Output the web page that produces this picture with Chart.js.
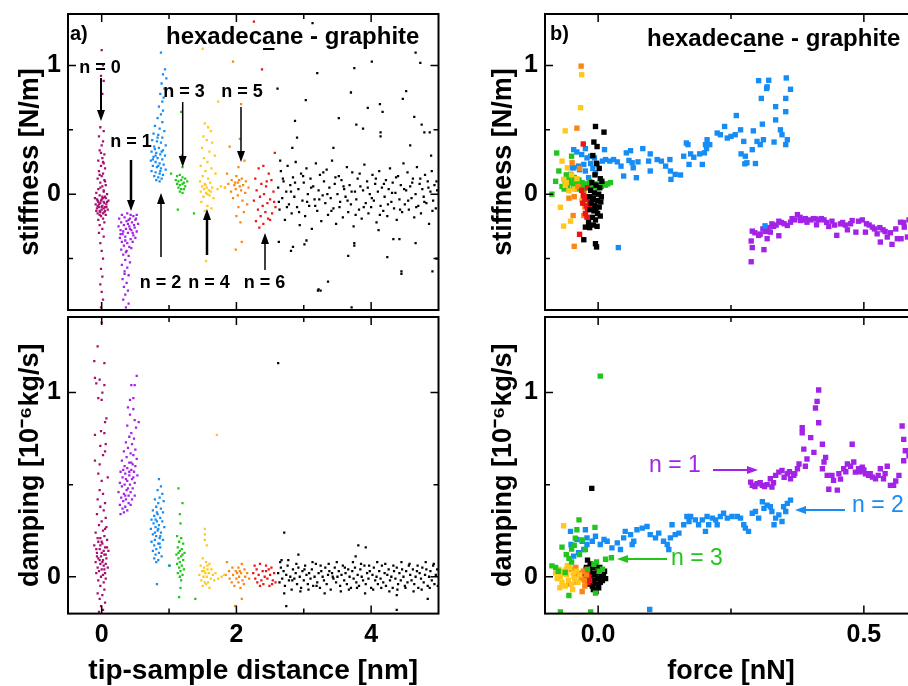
<!DOCTYPE html>
<html>
<head>
<meta charset="utf-8">
<script src="https://cdn.jsdelivr.net/npm/chart.js@4.4.1/dist/chart.umd.min.js"></script>
<style>
  body { margin: 0; width: 908px; height: 686px; overflow: hidden; background: #fff; position: relative; }
  canvas { position: absolute; }
</style>
</head>
<body>
<canvas id="stiffDist" width="450" height="314" style="left:0;top:0"></canvas>
<canvas id="dampDist" width="450" height="373" style="left:0;top:313px"></canvas>
<canvas id="stiffForce" width="480" height="314" style="left:450px;top:0"></canvas>
<canvas id="dampForce" width="480" height="373" style="left:450px;top:313px"></canvas>
<script>
// tick values (major ones get a label)
const distTicks = [0, 1, 2, 3, 4];
const distMajor = [0, 2, 4];
const forceTicks = [0, 0.25, 0.5];
const forceMajor = [0, 0.5];
const stiffTicks = [-0.5, 0, 0.5, 1];
const dampTicks = [0, 0.5, 1];
const yMajor = [0, 1];

// colours for layer n = 0 ... 6 and the bulk liquid
const colN0 = "#a5106f";
const colN1 = "#a322e8";
const colN2 = "#168cf5";
const colN3 = "#22c51c";
const colN4 = "#ffc81a";
const colN5 = "#fa8714";
const colN6 = "#ec1414";
const colBulk = "#000000";

// ---- a) stiffness vs tip-sample distance [nm, N/m]
const stiffDistN0 = [[0.0,1.12],[0.02,1.0],[-0.01,0.92],[0.03,0.88],[0.01,0.78],[-0.02,0.52],[0.03,0.49],[-0.04,0.45],[0.02,0.41],[0.0,0.38],[-0.03,0.34],[0.04,0.31],[0.01,0.28],[-0.05,0.26],[0.03,0.24],[-0.01,0.22],[0.05,0.2],[-0.04,0.18],[0.02,0.16],[0.0,0.14],[-0.06,0.12],[0.04,0.11],[-0.02,0.09],[0.06,0.07],[0.01,0.06],[-0.05,0.04],[0.03,0.03],[-0.08,0.01],[0.08,0.0],[-0.03,-0.01],[0.05,-0.02],[-0.1,-0.03],[0.0,-0.04],[0.1,-0.05],[-0.06,-0.05],[0.03,-0.06],[-0.02,-0.07],[0.07,-0.08],[-0.09,-0.08],[0.01,-0.09],[-0.04,-0.1],[0.05,-0.1],[-0.07,-0.11],[0.09,-0.12],[0.0,-0.12],[-0.03,-0.13],[0.04,-0.14],[-0.06,-0.15],[0.06,-0.16],[-0.01,-0.17],[0.02,-0.19],[-0.05,-0.2],[0.04,-0.22],[-0.03,-0.24],[0.01,-0.27],[-0.04,-0.3],[0.03,-0.33],[-0.02,-0.38],[0.0,-0.44],[0.02,-0.5],[-0.01,-0.58],[0.01,-0.64],[-0.02,-0.7],[0.0,-0.76],[0.02,-0.82],[-0.01,-0.88],[-0.05,-0.06],[0.02,-0.03],[0.07,-0.1],[-0.08,-0.13],[0.03,-0.11],[-0.01,-0.05],[0.05,-0.13],[-0.04,-0.08],[0.08,-0.06],[-0.02,-0.14],[0.0,-0.1],[0.04,-0.07],[-0.07,-0.04],[0.06,-0.03],[-0.03,-0.16],[0.02,-0.15],[-0.06,-0.09],[0.01,-0.02],[0.03,0.02],[-0.02,0.05],[0.05,0.1],[-0.03,0.15],[0.02,0.25],[-0.01,0.32]];
const stiffDistN1 = [[0.3,-0.16],[0.38,-0.15],[0.47,-0.17],[0.52,-0.16],[0.26,-0.19],[0.34,-0.18],[0.42,-0.19],[0.5,-0.2],[0.29,-0.22],[0.37,-0.21],[0.45,-0.22],[0.54,-0.23],[0.25,-0.25],[0.33,-0.24],[0.41,-0.25],[0.49,-0.26],[0.28,-0.28],[0.36,-0.27],[0.44,-0.28],[0.52,-0.29],[0.31,-0.31],[0.39,-0.3],[0.47,-0.32],[0.27,-0.34],[0.35,-0.33],[0.43,-0.35],[0.5,-0.34],[0.3,-0.37],[0.38,-0.38],[0.46,-0.37],[0.33,-0.4],[0.41,-0.41],[0.29,-0.43],[0.37,-0.44],[0.44,-0.42],[0.32,-0.47],[0.4,-0.48],[0.35,-0.51],[0.42,-0.53],[0.3,-0.55],[0.38,-0.57],[0.34,-0.6],[0.4,-0.63],[0.31,-0.66],[0.37,-0.69],[0.33,-0.72],[0.39,-0.75],[0.35,-0.78],[0.32,-0.82],[0.4,-0.85],[0.36,-0.88],[0.34,-0.62],[0.36,-0.45],[0.48,-0.24],[0.4,-0.2],[0.32,-0.29],[0.46,-0.3],[0.35,-0.36],[0.42,-0.27],[0.28,-0.31],[0.51,-0.19],[0.39,-0.23],[0.43,-0.16]];
const stiffDistN2 = [[0.88,1.1],[0.94,0.97],[0.91,0.93],[0.96,0.9],[0.89,0.86],[0.93,0.82],[0.87,0.78],[0.92,0.75],[0.9,0.72],[0.85,0.68],[0.91,0.65],[0.88,0.62],[0.83,0.59],[0.9,0.56],[0.79,0.53],[0.86,0.51],[0.93,0.49],[0.77,0.47],[0.84,0.46],[0.9,0.44],[0.75,0.42],[0.82,0.41],[0.88,0.4],[0.95,0.38],[0.78,0.37],[0.85,0.36],[0.91,0.34],[0.74,0.33],[0.81,0.32],[0.87,0.31],[0.94,0.3],[0.77,0.29],[0.83,0.28],[0.9,0.27],[0.73,0.26],[0.8,0.25],[0.86,0.24],[0.92,0.23],[0.76,0.22],[0.82,0.21],[0.88,0.2],[0.95,0.19],[0.74,0.18],[0.8,0.17],[0.86,0.16],[0.91,0.15],[0.78,0.14],[0.84,0.13],[0.89,0.12],[0.81,0.11],[0.86,0.1],[0.79,0.35],[0.84,0.22],[0.76,0.27],[0.89,0.33],[0.83,0.44],[0.8,0.3],[0.87,0.18]];
const stiffDistN3 = [[1.18,0.64],[1.19,0.3],[1.2,0.21],[1.03,0.16],[1.12,0.14],[1.16,0.15],[1.2,0.13],[1.24,0.12],[1.1,0.11],[1.14,0.1],[1.18,0.11],[1.22,0.09],[1.27,0.1],[1.12,0.08],[1.16,0.07],[1.2,0.08],[1.24,0.06],[1.14,0.05],[1.18,0.04],[1.22,0.04],[1.16,0.02],[1.2,0.01],[1.13,-0.12],[1.37,-0.15]];
const stiffDistN4 = [[1.5,1.13],[1.73,0.72],[1.53,0.55],[1.58,0.52],[1.62,0.49],[1.51,0.45],[1.56,0.42],[1.64,0.4],[1.49,0.36],[1.6,0.33],[1.68,0.3],[1.52,0.28],[1.57,0.25],[1.47,0.22],[1.63,0.2],[1.54,0.18],[1.69,0.16],[1.5,0.14],[1.58,0.12],[1.46,0.1],[1.53,0.08],[1.61,0.09],[1.49,0.06],[1.56,0.05],[1.52,0.04],[1.59,0.03],[1.64,0.05],[1.47,0.02],[1.55,0.01],[1.6,-0.01],[1.51,-0.02],[1.66,-0.03],[1.72,0.04],[1.77,0.06],[1.83,0.05],[1.48,-0.06],[1.57,-0.09],[1.53,-0.13],[1.63,-0.11],[1.55,-0.52],[1.54,0.07],[1.57,0.0],[1.62,0.02]];
const stiffDistN5 = [[1.95,1.03],[2.07,0.7],[2.05,0.43],[1.9,0.37],[2.12,0.26],[2.03,0.21],[1.86,0.16],[2.0,0.14],[2.08,0.12],[1.93,0.11],[2.14,0.1],[2.02,0.09],[1.88,0.08],[2.1,0.07],[1.97,0.07],[2.05,0.06],[1.83,0.05],[2.18,0.05],[1.99,0.04],[2.07,0.03],[1.92,0.02],[2.13,0.01],[2.02,-0.01],[1.95,-0.03],[2.09,-0.05],[2.16,-0.08],[2.03,-0.1],[2.0,-0.17],[2.06,-0.22],[2.08,-0.37],[1.99,-0.43],[2.11,-0.14],[2.04,0.11],[1.98,0.09]];
const stiffDistN6 = [[2.26,1.34],[2.38,0.97],[2.57,0.32],[2.4,0.22],[2.33,0.2],[2.48,0.16],[2.28,0.12],[2.52,0.11],[2.37,0.08],[2.44,0.06],[2.3,0.03],[2.55,0.02],[2.41,0.0],[2.35,-0.02],[2.5,-0.04],[2.26,-0.05],[2.46,-0.07],[2.39,-0.09],[2.58,-0.1],[2.32,-0.12],[2.43,-0.14],[2.53,-0.15],[2.36,-0.17],[2.47,-0.19],[2.29,-0.21],[2.4,-0.23],[2.34,-0.26],[2.5,-0.2],[2.56,-0.06],[2.45,0.1]];
const stiffDistBulk = [[2.62,0.05],[2.64,-0.12],[2.66,0.18],[2.68,-0.03],[2.7,0.1],[2.72,-0.2],[2.74,0.02],[2.76,0.22],[2.78,-0.08],[2.8,0.07],[2.82,-0.15],[2.84,0.13],[2.86,-0.02],[2.88,0.25],[2.9,-0.1],[2.92,0.04],[2.94,-0.24],[2.96,0.16],[2.98,-0.05],[3.0,0.09],[3.02,-0.17],[3.04,0.2],[3.06,0.0],[3.08,-0.09],[3.1,0.12],[3.12,-0.27],[3.14,0.06],[3.16,-0.04],[3.18,0.24],[3.2,-0.13],[3.22,0.03],[3.24,0.15],[3.26,-0.21],[3.28,-0.01],[3.3,0.1],[3.32,-0.07],[3.34,0.19],[3.36,-0.16],[3.38,0.05],[3.4,-0.03],[3.42,0.26],[3.44,-0.11],[3.46,0.08],[3.48,-0.23],[3.5,0.0],[3.52,0.14],[3.54,-0.06],[3.56,0.11],[3.58,-0.18],[3.6,0.04],[3.62,-0.02],[3.64,0.21],[3.66,-0.14],[3.68,0.07],[3.7,-0.08],[3.72,0.17],[3.74,-0.25],[3.76,0.02],[3.78,-0.04],[3.8,0.12],[3.82,-0.12],[3.84,0.06],[3.86,-0.19],[3.88,0.03],[3.9,0.23],[3.92,-0.07],[3.94,0.1],[3.96,-0.15],[3.98,0.0],[4.0,-0.1],[4.02,0.15],[4.04,-0.05],[4.06,0.08],[4.08,-0.22],[4.1,0.02],[4.12,0.18],[4.14,-0.09],[4.16,0.05],[4.18,-0.13],[4.2,-0.02],[4.22,0.11],[4.24,-0.17],[4.26,0.04],[4.28,0.2],[4.3,-0.06],[4.32,0.09],[4.34,-0.11],[4.36,0.01],[4.38,-0.2],[4.4,0.14],[4.42,-0.04],[4.44,0.07],[4.46,-0.14],[4.48,0.24],[4.5,-0.08],[4.52,0.03],[4.54,0.17],[4.56,-0.12],[4.58,0.06],[4.6,-0.03],[4.62,0.12],[4.64,-0.18],[4.66,0.0],[4.68,0.21],[4.7,-0.09],[4.72,0.08],[4.74,-0.15],[4.76,0.04],[4.78,-0.02],[4.8,0.15],[4.82,-0.07],[4.84,0.1],[4.86,-0.23],[4.88,0.02],[4.9,0.18],[4.92,-0.05],[4.94,0.07],[4.96,-0.11],[4.98,0.03],[2.63,-0.06],[2.69,0.12],[2.75,-0.1],[2.81,0.02],[2.87,0.09],[2.93,-0.14],[2.99,0.14],[3.05,-0.06],[3.11,0.05],[3.17,-0.09],[3.23,-0.04],[3.29,0.17],[3.35,0.0],[3.41,-0.13],[3.47,0.13],[3.53,-0.1],[3.59,0.06],[3.65,-0.05],[3.71,0.02],[3.77,-0.16],[3.83,0.16],[3.89,-0.1],[3.95,0.05],[4.01,-0.03],[4.07,0.12],[4.13,-0.16],[4.19,0.08],[4.25,-0.08],[4.31,0.01],[4.37,0.13],[4.43,-0.12],[4.49,0.04],[4.55,-0.05],[4.61,0.09],[4.67,-0.1],[4.73,0.12],[4.79,-0.06],[4.85,0.05],[4.91,-0.13],[4.97,0.1],[3.13,1.33],[4.01,1.03],[4.66,1.1],[4.73,1.02],[3.75,0.98],[3.2,0.94],[2.61,0.82],[3.7,0.79],[3.03,0.73],[4.52,0.8],[4.47,0.74],[4.13,0.7],[3.95,0.67],[4.17,0.64],[3.52,0.59],[2.87,0.57],[3.78,0.54],[3.88,0.51],[4.64,0.6],[4.75,0.54],[4.79,0.48],[4.87,0.48],[4.14,0.48],[4.14,0.45],[2.9,0.44],[4.58,0.38],[3.44,0.36],[2.83,0.36],[4.89,0.3],[2.65,0.26],[2.63,-0.37],[3.04,-0.36],[3.01,-0.39],[3.75,-0.38],[3.75,-0.4],[4.11,-0.28],[4.33,-0.35],[4.42,-0.35],[4.66,-0.38],[2.84,-0.41],[2.81,-0.44],[3.66,-0.48],[4.24,-0.49],[4.91,-0.6],[4.45,-0.6],[4.45,-0.62],[4.97,-0.5],[3.36,-0.68],[3.25,-0.75],[3.21,-0.75],[3.22,-0.74],[3.71,-0.88]];

// ---- a) damping vs tip-sample distance [nm, 1e-6 kg/s]
const dampDistN0 = [[0.0,1.38],[-0.06,1.25],[-0.11,1.17],[0.04,1.16],[-0.1,1.08],[-0.03,1.07],[-0.08,1.05],[0.04,1.04],[0.01,1.0],[-0.05,0.97],[0.0,0.96],[0.07,0.86],[0.05,0.84],[-0.01,0.79],[-0.1,0.77],[0.04,0.78],[-0.02,0.71],[0.06,0.72],[0.05,0.68],[0.02,0.66],[-0.1,0.63],[-0.03,0.61],[-0.05,0.56],[0.0,0.52],[0.09,0.54],[-0.03,0.47],[0.02,0.45],[-0.06,0.42],[0.05,0.4],[-0.02,0.38],[0.03,0.36],[-0.07,0.34],[0.06,0.32],[0.0,0.3],[-0.04,0.28],[0.07,0.27],[0.02,0.25],[-0.09,0.24],[0.04,0.22],[-0.02,0.21],[0.08,0.2],[-0.05,0.19],[0.01,0.18],[-0.11,0.17],[0.05,0.16],[-0.03,0.15],[0.1,0.14],[0.0,0.13],[-0.07,0.13],[0.04,0.12],[-0.01,0.11],[0.07,0.1],[-0.05,0.1],[0.02,0.09],[-0.09,0.08],[0.06,0.07],[-0.02,0.07],[0.03,0.06],[-0.06,0.05],[0.09,0.05],[0.0,0.04],[-0.04,0.03],[0.05,0.02],[-0.08,0.02],[0.02,0.01],[-0.01,0.0],[0.06,-0.01],[-0.05,-0.02],[0.03,-0.03],[-0.02,-0.05],[0.04,-0.07],[-0.06,-0.09],[0.01,-0.1],[-0.03,-0.12],[0.05,-0.14],[-0.01,-0.16],[0.02,-0.18],[-0.04,-0.19],[0.08,0.16],[-0.07,0.11],[0.03,0.14],[-0.03,0.09],[0.06,0.12],[-0.08,0.15],[0.01,0.08],[-0.02,0.17],[0.04,0.04],[-0.06,0.21],[0.0,0.19],[0.05,0.26]];
const dampDistN1 = [[0.52,1.09],[0.44,1.04],[0.49,1.04],[0.47,0.97],[0.42,0.96],[0.39,0.92],[0.47,0.91],[0.42,0.88],[0.49,0.85],[0.55,0.84],[0.38,0.82],[0.51,0.81],[0.44,0.78],[0.41,0.76],[0.48,0.75],[0.36,0.73],[0.45,0.72],[0.39,0.7],[0.5,0.69],[0.33,0.68],[0.43,0.67],[0.47,0.66],[0.37,0.65],[0.52,0.64],[0.3,0.63],[0.41,0.62],[0.46,0.61],[0.34,0.6],[0.5,0.6],[0.38,0.59],[0.44,0.58],[0.28,0.57],[0.48,0.57],[0.35,0.56],[0.41,0.55],[0.53,0.55],[0.31,0.54],[0.45,0.53],[0.38,0.52],[0.27,0.51],[0.49,0.51],[0.34,0.5],[0.42,0.5],[0.3,0.49],[0.46,0.48],[0.37,0.47],[0.25,0.46],[0.43,0.46],[0.33,0.45],[0.4,0.44],[0.49,0.44],[0.29,0.43],[0.36,0.42],[0.45,0.42],[0.32,0.41],[0.4,0.4],[0.27,0.39],[0.35,0.38],[0.43,0.39],[0.31,0.37],[0.38,0.36],[0.33,0.35],[0.28,0.34],[0.36,0.53],[0.41,0.57],[0.39,0.48],[0.44,0.62],[0.32,0.58],[0.47,0.54],[0.35,0.44]];
const dampDistN2 = [[0.85,0.53],[0.88,0.49],[0.83,0.47],[0.9,0.45],[0.86,0.43],[0.79,0.42],[0.92,0.41],[0.84,0.4],[0.81,0.38],[0.88,0.37],[0.76,0.36],[0.91,0.35],[0.83,0.34],[0.78,0.33],[0.87,0.32],[0.74,0.31],[0.82,0.3],[0.9,0.3],[0.77,0.29],[0.85,0.28],[0.8,0.27],[0.93,0.27],[0.73,0.26],[0.83,0.25],[0.88,0.24],[0.76,0.23],[0.81,0.22],[0.86,0.21],[0.79,0.2],[0.91,0.2],[0.74,0.19],[0.84,0.18],[0.78,0.17],[0.87,0.16],[0.81,0.15],[0.76,0.14],[0.85,0.13],[0.8,0.12],[0.89,0.11],[0.78,0.1],[0.84,0.09],[0.81,0.08],[0.82,-0.04],[1.01,0.06],[0.84,0.26],[0.8,0.31],[0.87,0.22],[0.82,0.35],[0.79,0.24],[0.86,0.18]];
const dampDistN3 = [[1.14,0.48],[1.2,0.4],[1.16,0.34],[1.17,0.29],[1.12,0.22],[1.18,0.21],[1.15,0.19],[1.21,0.18],[1.13,0.16],[1.19,0.15],[1.16,0.14],[1.23,0.13],[1.11,0.12],[1.18,0.11],[1.14,0.1],[1.21,0.09],[1.16,0.08],[1.12,0.07],[1.19,0.06],[1.15,0.05],[1.22,0.04],[1.17,0.03],[1.13,0.02],[1.2,0.01],[1.16,0.0],[1.18,-0.02],[1.17,-0.06],[1.15,-0.11],[1.39,-0.12],[1.0,0.06],[1.2,0.12],[1.14,0.13]];
const dampDistN4 = [[1.71,0.77],[1.53,0.26],[1.53,0.23],[1.53,0.2],[1.56,0.17],[1.5,0.1],[1.55,0.08],[1.6,0.07],[1.47,0.06],[1.52,0.05],[1.57,0.04],[1.63,0.04],[1.49,0.03],[1.54,0.02],[1.59,0.02],[1.45,0.01],[1.51,0.0],[1.56,0.0],[1.62,-0.01],[1.48,-0.02],[1.53,-0.03],[1.58,-0.03],[1.65,0.01],[1.69,0.02],[1.73,-0.01],[1.78,0.0],[1.82,0.01],[1.5,-0.05],[1.6,-0.06],[1.55,-0.04],[1.67,-0.02],[1.57,0.06],[1.52,0.03]];
const dampDistN5 = [[1.86,0.08],[2.08,0.07],[1.94,0.05],[2.03,0.05],[2.12,0.04],[1.89,0.03],[1.99,0.03],[2.07,0.02],[2.16,0.02],[1.84,0.01],[1.95,0.01],[2.04,0.0],[2.13,0.0],[1.9,-0.01],[2.0,-0.01],[2.09,-0.02],[2.19,-0.01],[1.93,-0.03],[2.03,-0.03],[2.11,-0.04],[1.97,-0.05],[2.06,-0.06],[2.08,-0.12],[1.98,-0.16],[2.01,0.02],[2.05,0.03]];
const dampDistN6 = [[2.27,0.06],[2.35,0.07],[2.44,0.06],[2.52,0.05],[2.3,0.04],[2.39,0.03],[2.48,0.04],[2.56,0.02],[2.25,0.02],[2.33,0.01],[2.42,0.0],[2.5,0.01],[2.28,-0.01],[2.37,-0.02],[2.46,-0.01],[2.54,-0.02],[2.31,-0.03],[2.4,-0.04],[2.49,-0.05],[2.58,-0.03],[2.35,-0.05],[2.44,0.03],[2.53,-0.04]];
const dampDistBulk = [[2.62,0.02],[2.64,-0.03],[2.66,0.05],[2.68,-0.01],[2.7,0.03],[2.72,-0.05],[2.74,0.01],[2.76,0.06],[2.78,-0.02],[2.8,0.0],[2.82,-0.07],[2.84,0.04],[2.86,-0.01],[2.88,0.02],[2.9,-0.04],[2.92,0.05],[2.94,0.0],[2.96,-0.06],[2.98,0.03],[3.0,-0.02],[3.02,0.06],[3.04,0.01],[3.06,-0.04],[3.08,0.02],[3.1,-0.01],[3.12,0.04],[3.14,-0.05],[3.16,0.0],[3.18,0.07],[3.2,-0.03],[3.22,0.02],[3.24,-0.06],[3.26,0.03],[3.28,0.0],[3.3,-0.02],[3.32,0.05],[3.34,-0.04],[3.36,0.01],[3.38,0.03],[3.4,-0.07],[3.42,0.02],[3.44,-0.01],[3.46,0.05],[3.48,-0.03],[3.5,0.0],[3.52,0.03],[3.54,-0.05],[3.56,0.01],[3.58,0.06],[3.6,-0.02],[3.62,0.02],[3.64,-0.04],[3.66,0.04],[3.68,0.0],[3.7,-0.06],[3.72,0.03],[3.74,-0.01],[3.76,0.05],[3.78,-0.03],[3.8,0.01],[3.82,-0.05],[3.84,0.04],[3.86,0.0],[3.88,-0.02],[3.9,0.06],[3.92,-0.04],[3.94,0.02],[3.96,-0.01],[3.98,0.03],[4.0,-0.06],[4.02,0.01],[4.04,0.05],[4.06,-0.02],[4.08,0.0],[4.1,-0.04],[4.12,0.03],[4.14,-0.01],[4.16,0.06],[4.18,-0.03],[4.2,0.02],[4.22,-0.05],[4.24,0.01],[4.26,0.04],[4.28,-0.02],[4.3,0.0],[4.32,-0.06],[4.34,0.03],[4.36,-0.01],[4.38,0.05],[4.4,-0.04],[4.42,0.02],[4.44,-0.02],[4.46,0.04],[4.48,0.0],[4.5,-0.05],[4.52,0.03],[4.54,-0.03],[4.56,0.06],[4.58,0.01],[4.6,-0.02],[4.62,0.04],[4.64,-0.04],[4.66,0.0],[4.68,0.03],[4.7,-0.06],[4.72,0.02],[4.74,-0.01],[4.76,0.05],[4.78,-0.03],[4.8,0.01],[4.82,0.04],[4.84,-0.05],[4.86,0.0],[4.88,0.03],[4.9,-0.02],[4.92,0.06],[4.94,-0.04],[4.96,0.01],[4.98,0.04],[2.65,0.08],[2.71,-0.09],[2.77,0.09],[2.83,-0.02],[2.89,0.07],[2.95,-0.08],[3.01,0.04],[3.07,-0.07],[3.13,0.08],[3.19,-0.05],[3.25,0.06],[3.31,-0.09],[3.37,0.07],[3.43,0.0],[3.49,0.08],[3.55,-0.08],[3.61,0.05],[3.67,-0.07],[3.73,0.08],[3.79,-0.06],[3.85,0.07],[3.91,-0.09],[3.97,0.06],[4.03,-0.07],[4.09,0.08],[4.15,-0.06],[4.21,0.07],[4.27,-0.08],[4.33,0.06],[4.39,-0.07],[4.45,0.08],[4.51,-0.06],[4.57,0.07],[4.63,-0.08],[4.69,0.06],[4.75,-0.07],[4.81,0.08],[4.87,-0.06],[4.93,0.07],[4.99,-0.05],[2.62,1.16],[2.71,0.24],[2.92,0.12],[2.67,0.09],[3.81,0.17],[3.92,0.16],[3.77,0.11],[2.74,-0.16],[4.38,-0.18],[4.84,-0.12],[4.38,-0.1]];

// ---- b) stiffness vs force [nN, N/m]
const stiffForceN1 = [[0.288,-0.525],[0.29,-0.415],[0.288,-0.364],[0.312,-0.431],[0.34,-0.323],[0.29,-0.287],[0.302,-0.32],[0.318,-0.346],[0.324,-0.295],[0.327,-0.231],[0.34,-0.21],[0.356,-0.243],[0.362,-0.218],[0.375,-0.159],[0.381,-0.205],[0.393,-0.218],[0.409,-0.192],[0.411,-0.238],[0.425,-0.2],[0.434,-0.251],[0.449,-0.32],[0.456,-0.231],[0.469,-0.277],[0.478,-0.205],[0.485,-0.295],[0.497,-0.2],[0.503,-0.295],[0.516,-0.256],[0.525,-0.308],[0.531,-0.372],[0.536,-0.277],[0.544,-0.333],[0.553,-0.39],[0.563,-0.346],[0.57,-0.346],[0.569,-0.218],[0.576,-0.256],[0.582,-0.333],[0.295,-0.3],[0.305,-0.31],[0.31,-0.27],[0.315,-0.29],[0.32,-0.26],[0.33,-0.25],[0.335,-0.24],[0.345,-0.22],[0.35,-0.23],[0.365,-0.19],[0.37,-0.2],[0.38,-0.18],[0.385,-0.2],[0.39,-0.19],[0.4,-0.2],[0.405,-0.19],[0.415,-0.2],[0.42,-0.19],[0.43,-0.22],[0.44,-0.21],[0.445,-0.24],[0.46,-0.22],[0.465,-0.24],[0.475,-0.23],[0.49,-0.21],[0.505,-0.23],[0.51,-0.24],[0.52,-0.27],[0.53,-0.26],[0.54,-0.29],[0.55,-0.3],[0.56,-0.27],[0.575,-0.22],[0.585,-0.2],[0.595,-0.24]];
const stiffForceN2 = [[-0.046,0.346],[-0.04,0.328],[-0.024,0.354],[-0.031,0.308],[-0.021,0.282],[-0.014,0.295],[-0.007,0.282],[-0.037,0.218],[-0.046,0.205],[-0.027,0.231],[-0.014,0.238],[-0.002,0.231],[0.008,0.257],[0.014,0.269],[0.012,0.346],[0.022,0.257],[0.029,0.269],[0.036,0.251],[0.048,0.141],[0.043,0.218],[0.053,0.321],[0.061,0.338],[0.058,0.262],[0.064,0.244],[0.066,0.205],[0.072,0.128],[0.075,0.251],[0.084,0.354],[0.095,0.257],[0.098,0.313],[0.098,0.18],[0.111,0.269],[0.119,0.257],[0.127,0.218],[0.135,0.269],[0.136,0.18],[0.137,0.115],[0.145,0.154],[0.155,0.149],[0.161,0.295],[0.166,0.398],[0.169,0.385],[0.171,0.231],[0.174,0.313],[0.18,0.287],[0.191,0.313],[0.196,0.231],[0.2,0.321],[0.202,0.385],[0.205,0.423],[0.21,0.385],[0.204,0.354],[0.224,0.475],[0.23,0.462],[0.238,0.526],[0.243,0.436],[0.25,0.449],[0.258,0.462],[0.26,0.611],[0.268,0.5],[0.274,0.41],[0.269,0.313],[0.277,0.295],[0.28,0.244],[0.292,0.492],[0.296,0.238],[0.29,0.346],[0.309,0.544],[0.299,0.41],[0.305,0.385],[0.302,0.882],[0.307,0.744],[0.317,0.821],[0.321,0.885],[0.318,0.834],[0.334,0.68],[0.331,0.405],[0.334,0.577],[0.343,0.5],[0.346,0.462],[0.353,0.641],[0.354,0.903],[0.353,0.385],[0.356,0.423],[0.353,0.744],[0.362,0.815],[0.311,0.423],[0.276,0.236],[-0.049,0.205],[-0.024,0.18],[-0.005,0.167],[-0.052,0.154],[-0.018,0.128],[-0.035,0.19],[-0.01,0.2],[0.038,-0.415],[0.314,-0.246]];
const stiffForceN3 = [[-0.087,0.0],[-0.08,0.1],[-0.074,0.18],[-0.078,0.32],[-0.05,0.295],[-0.068,0.06],[-0.062,0.08],[-0.058,0.05],[-0.052,0.09],[-0.047,0.06],[-0.042,0.1],[-0.038,0.07],[-0.034,0.05],[-0.03,0.09],[-0.026,0.06],[-0.022,0.08],[-0.018,0.05],[-0.014,0.07],[-0.01,0.06],[-0.006,0.08],[-0.002,0.05],[0.002,0.07],[0.006,0.06],[0.01,0.08],[0.014,0.07],[0.018,0.08],[0.023,0.09],[-0.064,0.04],[-0.055,0.12],[-0.045,0.13],[-0.036,0.11],[-0.027,0.03],[-0.016,0.1],[-0.06,0.15],[-0.04,0.04]];
const stiffForceN4 = [[-0.031,0.928],[-0.033,0.672],[-0.062,0.492],[-0.068,0.257],[-0.058,0.205],[-0.065,0.115],[-0.06,0.09],[-0.062,0.069],[-0.055,0.026],[-0.071,-0.102],[-0.052,-0.21],[-0.065,-0.248],[-0.031,-0.05],[-0.045,0.04],[-0.05,0.15],[-0.04,0.12]];
const stiffForceN5 = [[-0.032,0.995],[-0.04,0.513],[-0.049,0.244],[-0.055,-0.031],[-0.045,-0.02],[-0.027,0.0],[-0.027,-0.05],[-0.047,-0.166],[-0.027,-0.166],[-0.045,-0.405],[-0.025,-0.1],[-0.038,0.06],[-0.035,0.2]];
const stiffForceN6 = [[-0.028,0.39],[-0.031,0.03],[-0.028,-0.01],[-0.025,-0.04],[-0.029,-0.07],[-0.022,-0.09],[-0.02,-0.12],[-0.024,-0.15],[-0.021,-0.179],[-0.035,-0.312],[-0.018,-0.02],[-0.016,-0.06],[-0.02,0.05],[-0.015,-0.1]];
const stiffForceBulk = [[-0.005,0.526],[0.011,0.482],[-0.008,0.405],[-0.002,0.37],[-0.01,0.3],[-0.003,0.24],[0.002,0.2],[-0.006,0.15],[0.004,0.12],[-0.012,0.09],[-0.004,0.07],[0.003,0.05],[-0.014,0.03],[-0.007,0.01],[0.001,0.0],[-0.016,-0.02],[-0.009,-0.03],[-0.002,-0.05],[0.005,-0.06],[-0.013,-0.07],[-0.006,-0.09],[0.002,-0.1],[-0.015,-0.12],[-0.008,-0.13],[-0.001,-0.15],[0.004,-0.17],[-0.011,-0.18],[-0.005,-0.2],[-0.018,-0.22],[-0.009,-0.24],[-0.024,-0.256],[-0.016,-0.26],[-0.002,-0.25],[-0.027,-0.354],[-0.005,-0.385],[-0.003,-0.41],[0.006,-0.02],[0.007,0.1],[-0.01,-0.04],[-0.004,-0.11]];

// ---- b) damping vs force [nN, 1e-6 kg/s]
const dampForceN1 = [[0.287,0.514],[0.29,0.496],[0.299,0.505],[0.309,0.496],[0.318,0.5],[0.327,0.487],[0.324,0.532],[0.334,0.55],[0.34,0.568],[0.346,0.577],[0.356,0.559],[0.362,0.532],[0.368,0.55],[0.375,0.586],[0.378,0.612],[0.384,0.809],[0.384,0.782],[0.387,0.693],[0.393,0.639],[0.4,0.755],[0.406,0.675],[0.409,0.916],[0.412,0.952],[0.415,1.014],[0.415,0.836],[0.422,0.719],[0.425,0.623],[0.428,0.648],[0.422,0.586],[0.431,0.55],[0.434,0.475],[0.443,0.523],[0.45,0.47],[0.453,0.559],[0.462,0.586],[0.469,0.612],[0.478,0.719],[0.481,0.623],[0.484,0.568],[0.49,0.586],[0.497,0.595],[0.503,0.559],[0.509,0.55],[0.516,0.541],[0.522,0.532],[0.531,0.586],[0.537,0.532],[0.544,0.6],[0.55,0.496],[0.556,0.496],[0.566,0.55],[0.572,0.818],[0.575,0.746],[0.578,0.684],[0.575,0.63],[0.585,0.657],[0.59,0.6],[0.595,0.7],[0.6,0.55],[0.295,0.49],[0.305,0.51],[0.313,0.49],[0.33,0.51],[0.35,0.54],[0.36,0.57],[0.37,0.56],[0.39,0.6],[0.44,0.55],[0.456,0.53],[0.466,0.57],[0.475,0.6],[0.493,0.57],[0.5,0.58],[0.512,0.56],[0.527,0.55],[0.54,0.56],[0.56,0.52]];
const dampForceN2 = [[-0.052,0.246],[-0.04,0.202],[-0.03,0.193],[-0.024,0.255],[-0.021,0.211],[-0.011,0.193],[-0.005,0.22],[0.004,0.175],[0.011,0.202],[0.017,0.193],[0.026,0.157],[0.036,0.184],[0.042,0.148],[0.048,0.211],[0.051,0.246],[0.061,0.229],[0.064,0.175],[0.067,0.193],[0.073,0.255],[0.083,0.264],[0.092,0.273],[0.098,0.229],[0.108,0.211],[0.114,0.237],[0.123,0.193],[0.13,0.175],[0.133,0.148],[0.136,0.211],[0.139,0.282],[0.145,0.229],[0.152,0.237],[0.161,0.282],[0.167,0.327],[0.171,0.3],[0.174,0.327],[0.183,0.309],[0.189,0.282],[0.196,0.309],[0.202,0.246],[0.205,0.327],[0.208,0.282],[0.215,0.318],[0.221,0.309],[0.224,0.282],[0.23,0.327],[0.236,0.345],[0.243,0.318],[0.252,0.327],[0.262,0.327],[0.268,0.318],[0.274,0.282],[0.277,0.264],[0.283,0.246],[0.29,0.345],[0.296,0.354],[0.302,0.318],[0.309,0.407],[0.312,0.371],[0.318,0.389],[0.324,0.38],[0.327,0.354],[0.331,0.282],[0.334,0.318],[0.34,0.336],[0.346,0.3],[0.349,0.38],[0.356,0.398],[0.362,0.416],[0.353,0.354],[-0.051,0.175],[-0.037,0.13],[-0.046,0.112],[-0.027,0.148],[-0.021,0.175],[0.097,-0.178]];
const dampForceN3 = [[0.004,1.089],[-0.036,0.309],[-0.006,0.268],[-0.04,0.255],[-0.068,0.161],[-0.05,0.15],[-0.045,0.17],[-0.024,0.148],[-0.06,0.12],[-0.055,0.1],[-0.087,0.059],[-0.08,0.05],[-0.062,0.023],[-0.008,0.068],[-0.003,0.08],[0.014,0.095],[0.025,0.103],[0.008,0.041],[-0.055,-0.102],[-0.005,-0.089],[-0.071,-0.191],[-0.014,-0.191],[-0.03,0.2],[-0.043,0.21],[-0.02,0.04],[0.002,0.03],[-0.075,0.03],[-0.035,0.12],[-0.05,0.08]];
const dampForceN4 = [[-0.065,0.277],[-0.08,0.02],[-0.077,-0.01],[-0.074,0.04],[-0.071,0.0],[-0.068,-0.03],[-0.065,0.03],[-0.062,-0.05],[-0.059,0.01],[-0.056,-0.02],[-0.053,0.05],[-0.05,-0.04],[-0.047,0.02],[-0.044,-0.01],[-0.041,0.03],[-0.038,-0.03],[-0.035,0.01],[-0.072,-0.06],[-0.058,0.06],[-0.048,-0.07],[-0.06,0.04],[-0.07,0.015]];
const dampForceN5 = [[-0.05,0.04],[-0.045,0.0],[-0.04,-0.03],[-0.036,0.02],[-0.032,-0.01],[-0.028,0.03],[-0.025,-0.05],[-0.03,-0.08],[-0.055,-0.04],[-0.042,0.05],[-0.022,0.01],[-0.026,-0.02]];
const dampForceN6 = [[-0.025,0.01],[-0.022,-0.01],[-0.02,0.03],[-0.018,0.0],[-0.016,-0.02],[-0.021,0.02],[-0.019,-0.03],[-0.023,0.04]];
const dampForceBulk = [[-0.012,0.48],[-0.02,0.09],[-0.015,0.07],[-0.01,0.05],[-0.005,0.06],[-0.018,0.03],[-0.012,0.02],[-0.006,0.01],[0.0,0.03],[0.006,0.0],[-0.02,0.0],[-0.014,-0.01],[-0.008,-0.02],[-0.002,-0.01],[0.004,-0.03],[0.01,0.01],[-0.017,-0.04],[-0.011,-0.05],[-0.005,-0.04],[0.001,-0.06],[-0.009,-0.07],[-0.003,0.02],[0.008,-0.02],[0.012,0.03],[-0.022,0.05],[-0.004,-0.08],[0.003,0.05],[-0.016,0.04],[0.014,-0.01]];

Chart.defaults.font.family = "'Liberation Sans', Arial, sans-serif";
Chart.defaults.color = "#000";

const pts = (arr) => arr.map(([x, y]) => ({ x, y }));

function series(arr, color, r) {
  return {
    data: pts(arr),
    backgroundColor: color,
    borderColor: color,
    borderWidth: 0,
    pointRadius: r,
    pointStyle: "rect",
  };
}

function axis(min, max, ticks, major, size, fmt, title, titlePad) {
  return {
    type: "linear",
    min: min,
    max: max,
    afterBuildTicks: (s) => {
      s.ticks = ticks.map((v) => ({ value: v }));
    },
    afterFit: (s) => {
      if (s.isHorizontal()) s.height = size;
      else s.width = size;
      // labels sit well inside the range, so no extra room for them
      s.paddingTop = 0;
      s.paddingBottom = 0;
      s.paddingLeft = 0;
      s.paddingRight = 0;
    },
    grid: { display: false, drawTicks: false },
    border: { display: false },
    ticks: {
      display: !!fmt,
      padding: 7,
      font: { size: 25, weight: "bold" },
      callback: (v) => (major.includes(v) && fmt ? fmt(v) : ""),
    },
    title: title
      ? { display: true, text: title, font: { size: title.length > 20 ? 28 : 27, weight: "bold" }, padding: titlePad }
      : { display: false },
  };
}

// box around the plot with inward ticks on all four sides
function frame(xMajor, yMajor) {
  return {
    id: "frame",
    afterDatasetsDraw(chart) {
      const { ctx, chartArea: a, scales } = chart;
      ctx.save();
      ctx.strokeStyle = "#000";
      ctx.lineWidth = 1.5;
      ctx.beginPath();
      scales.x.ticks.forEach((t) => {
        const p = scales.x.getPixelForValue(t.value);
        const len = xMajor.includes(t.value) ? 8 : 5;
        ctx.moveTo(p, a.bottom); ctx.lineTo(p, a.bottom - len);
        ctx.moveTo(p, a.top); ctx.lineTo(p, a.top + len);
      });
      scales.y.ticks.forEach((t) => {
        const p = scales.y.getPixelForValue(t.value);
        const len = yMajor.includes(t.value) ? 8 : 5;
        ctx.moveTo(a.left, p); ctx.lineTo(a.left + len, p);
        ctx.moveTo(a.right, p); ctx.lineTo(a.right - len, p);
      });
      ctx.stroke();
      ctx.lineWidth = 2;
      ctx.strokeRect(a.left, a.top, a.right - a.left, a.bottom - a.top);
      ctx.restore();
    },
  };
}

function arrow(ctx, x1, y1, x2, y2, color, lw) {
  const ang = Math.atan2(y2 - y1, x2 - x1);
  const hl = 11, hw = 4;
  const c = Math.cos(ang), s = Math.sin(ang);
  ctx.strokeStyle = color;
  ctx.fillStyle = color;
  ctx.lineWidth = lw;
  ctx.beginPath();
  ctx.moveTo(x1, y1);
  ctx.lineTo(x2 - hl * 0.8 * c, y2 - hl * 0.8 * s);
  ctx.stroke();
  ctx.beginPath();
  ctx.moveTo(x2, y2);
  ctx.lineTo(x2 - hl * c + hw * s, y2 - hl * s - hw * c);
  ctx.lineTo(x2 - hl * c - hw * s, y2 - hl * s + hw * c);
  ctx.closePath();
  ctx.fill();
}

function panelTitle(ctx, label, lx, ly, x, y) {
  ctx.fillStyle = "#000";
  ctx.textAlign = "left";
  ctx.textBaseline = "alphabetic";
  ctx.font = "bold 20px 'Liberation Sans'";
  ctx.fillText(label, lx, ly);
  const text = "hexadecane - graphite";
  ctx.font = "bold 24px 'Liberation Sans'";
  ctx.fillText(text, x, y);
  const pre = ctx.measureText("hexadec").width;
  const w = ctx.measureText("a").width;
  ctx.fillRect(x + pre + 1, y + 4, w - 2, 2);
}

// layer labels in panel a)
const layerNotes = [
  { text: "n = 0", tx: 100, ty: 73, ax: 101, y1: 78, y2: 121, lw: 2 },
  { text: "n = 1", tx: 131, ty: 147, ax: 131, y1: 160, y2: 211, lw: 2.5 },
  { text: "n = 3", tx: 184, ty: 97, ax: 182.7, y1: 102, y2: 167, lw: 1.5 },
  { text: "n = 5", tx: 242, ty: 97, ax: 241, y1: 107, y2: 162, lw: 1.5 },
  { text: "n = 2", tx: 160.5, ty: 288, ax: 161, y1: 257, y2: 193, lw: 1.5 },
  { text: "n = 4", tx: 209, ty: 288, ax: 207, y1: 255, y2: 209, lw: 2.5 },
  { text: "n = 6", tx: 264.5, ty: 288, ax: 265, y1: 270, y2: 233, lw: 1.5 },
];

const notesA = {
  id: "notesA",
  afterDraw(chart) {
    const ctx = chart.ctx;
    ctx.save();
    panelTitle(ctx, "a)", 70, 40, 166, 44);
    ctx.font = "bold 18px 'Liberation Sans'";
    ctx.textAlign = "center";
    layerNotes.forEach((n) => {
      ctx.fillStyle = "#000";
      ctx.fillText(n.text, n.tx, n.ty);
      arrow(ctx, n.ax, n.y1, n.ax, n.y2, "#000", n.lw);
    });
    ctx.restore();
  },
};

const notesB = {
  id: "notesB",
  afterDraw(chart) {
    const ctx = chart.ctx;
    ctx.save();
    panelTitle(ctx, "b)", 100, 40, 197, 46);
    ctx.restore();
  },
};

const notesD = {
  id: "notesD",
  afterDraw(chart) {
    const ctx = chart.ctx;
    ctx.save();
    ctx.font = "23px 'Liberation Sans'";
    ctx.textAlign = "left";
    ctx.textBaseline = "alphabetic";
    ctx.fillStyle = colN1;
    ctx.fillText("n = 1", 199, 159);
    arrow(ctx, 263, 157, 308, 157, colN1, 2);
    ctx.fillStyle = colN2;
    ctx.fillText("n = 2", 402, 199);
    arrow(ctx, 395, 197, 345, 197, colN2, 2);
    ctx.fillStyle = colN3;
    ctx.fillText("n = 3", 221, 252);
    arrow(ctx, 217, 246, 167, 246, colN3, 2);
    ctx.restore();
  },
};

function makeChart(id, datasets, x, y, pad, plugins) {
  return new Chart(document.getElementById(id), {
    type: "scatter",
    data: { datasets: datasets },
    options: {
      responsive: false,
      animation: false,
      devicePixelRatio: 1,
      layout: { padding: pad },
      plugins: { legend: { display: false }, tooltip: { enabled: false } },
      scales: { x: x, y: y },
    },
    plugins: plugins,
  });
}

const fmtInt = (v) => String(v);
const fmtForce = (v) => v.toFixed(1);
const rs = 1.6;
const rb = 3.8;

makeChart(
  "stiffDist",
  [
    series(stiffDistBulk, colBulk, rs),
    series(stiffDistN0, colN0, rs),
    series(stiffDistN1, colN1, rs),
    series(stiffDistN2, colN2, rs),
    series(stiffDistN3, colN3, rs),
    series(stiffDistN4, colN4, rs),
    series(stiffDistN5, colN5, rs),
    series(stiffDistN6, colN6, rs),
  ],
  axis(-0.5, 5, distTicks, distMajor, 1, null, null),
  axis(-0.9, 1.4, stiffTicks, yMajor, 68, fmtInt, "stiffness [N/m]", { top: 14, bottom: 0 }),
  { top: 14, right: 11.5, left: 0, bottom: 0 },
  [frame(distMajor, yMajor), notesA]
);

makeChart(
  "dampDist",
  [
    series(dampDistBulk, colBulk, rs),
    series(dampDistN0, colN0, rs),
    series(dampDistN1, colN1, rs),
    series(dampDistN2, colN2, rs),
    series(dampDistN3, colN3, rs),
    series(dampDistN4, colN4, rs),
    series(dampDistN5, colN5, rs),
    series(dampDistN6, colN6, rs),
  ],
  axis(-0.5, 5, distTicks, distMajor, 72.4, fmtInt, "tip-sample distance [nm]", { top: 0, bottom: -2 }),
  axis(-0.2, 1.41, dampTicks, yMajor, 68, fmtInt, "damping [10\u207B\u2076kg/s]", { top: 14, bottom: 0 }),
  { top: 0, right: 11.5, left: 0, bottom: 0 },
  [frame(distMajor, yMajor)]
);

makeChart(
  "stiffForce",
  [
    series(stiffForceBulk, colBulk, rb),
    series(stiffForceN6, colN6, rb),
    series(stiffForceN5, colN5, rb),
    series(stiffForceN4, colN4, rb),
    series(stiffForceN3, colN3, rb),
    series(stiffForceN2, colN2, rb),
    series(stiffForceN1, colN1, rb),
  ],
  axis(-0.1, 0.6, forceTicks, forceMajor, 1, null, null),
  axis(-0.9, 1.4, stiffTicks, yMajor, 95, fmtInt, "stiffness [N/m]", { top: 37, bottom: 0 }),
  { top: 14, right: 13, left: 0, bottom: 0 },
  [frame(forceMajor, yMajor), notesB]
);

makeChart(
  "dampForce",
  [
    series(dampForceN3, colN3, rb),
    series(dampForceN4, colN4, rb),
    series(dampForceN5, colN5, rb),
    series(dampForceN6, colN6, rb),
    series(dampForceBulk, colBulk, rb),
    series(dampForceN2, colN2, rb),
    series(dampForceN1, colN1, rb),
  ],
  axis(-0.1, 0.6, forceTicks, forceMajor, 72.4, fmtForce, "force [nN]", { top: 0, bottom: -2 }),
  axis(-0.2, 1.41, dampTicks, yMajor, 95, fmtInt, "damping [10\u207B\u2076kg/s]", { top: 37, bottom: 0 }),
  { top: 0, right: 13, left: 0, bottom: 0 },
  [frame(forceMajor, yMajor), notesD]
);
</script>
</body>
</html>
